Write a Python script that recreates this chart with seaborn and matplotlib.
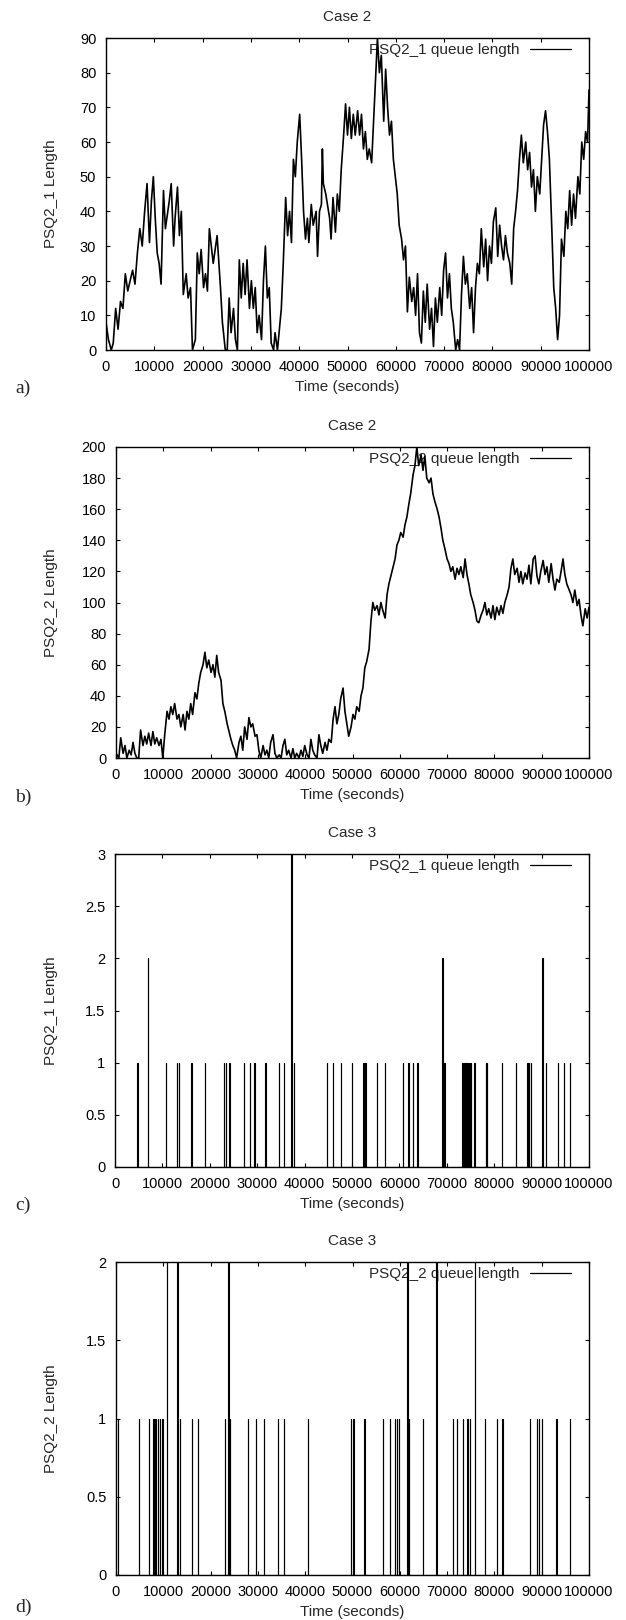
import matplotlib
matplotlib.use("Agg")
import matplotlib.pyplot as plt
import seaborn as sns

# panel a) Case 2, PSQ2_1 queue length (time in thousands of seconds)
a_time = [0, 0.5, 1.1, 1.5, 2.0, 2.5, 3.0, 3.5, 4.0, 4.5, 5.0, 5.5, 6.0, 6.5, 7.0, 7.5, 8.0,
          8.5, 9.0, 9.4, 9.8, 10.2, 10.6, 11.0, 11.4, 11.9, 12.3, 13.1, 13.5, 14.0, 14.3, 14.8,
          15.2, 15.6, 16.0, 16.6, 17.0, 17.5, 17.9, 18.5, 18.9, 19.3, 19.7, 20.2, 20.6, 21.0,
          21.4, 22.2, 23.0, 23.7, 24.1, 24.7, 25.1, 25.5, 25.9, 26.4, 26.8, 27.2, 27.6, 28.0,
          28.4, 28.8, 29.2, 29.7, 30.1, 30.5, 30.9, 31.3, 31.7, 32.2, 32.6, 33.0, 33.4, 33.8,
          34.2, 34.7, 35.0, 35.5, 36.3, 36.7, 37.2, 37.6, 38.0, 38.4, 38.8, 39.2, 39.6, 40.1,
          40.5, 40.9, 41.3, 41.7, 42.0, 42.5, 42.9, 43.5, 43.8, 44.2, 44.6, 44.8, 45.0, 45.5,
          46.3, 46.6, 47.0, 47.5, 47.9, 48.3, 48.7, 49.2, 49.6, 50.0, 50.4, 50.8, 51.2, 51.6,
          52.1, 52.5, 52.9, 53.3, 53.7, 54.1, 54.5, 55.0, 55.4, 55.8, 56.2, 56.6, 57.0, 57.5,
          57.9, 58.3, 58.7, 59.1, 59.5, 59.9, 60.3, 60.7, 61.2, 61.6, 62.0, 62.4, 62.8, 63.3,
          63.7, 64.1, 64.5, 64.9, 65.3, 65.7, 66.1, 66.5, 67.0, 67.4, 67.8, 68.2, 68.6, 69.1,
          69.5, 69.9, 70.3, 70.7, 71.1, 71.5, 71.9, 72.4, 72.8, 73.2, 73.6, 74.0, 74.4, 74.8,
          75.3, 75.7, 76.1, 76.5, 76.9, 77.3, 77.7, 78.2, 78.6, 79.0, 79.4, 79.8, 80.2, 80.7,
          81.1, 81.5, 81.9, 82.3, 82.7, 83.1, 83.6, 84.0, 84.4, 84.8, 85.2, 85.6, 86.0, 86.4,
          86.9, 87.3, 87.7, 88.1, 88.5, 88.9, 89.3, 89.8, 90.2, 90.6, 91.0, 91.4, 91.8, 92.3,
          92.7, 93.1, 93.5, 93.9, 94.3, 94.8, 95.2, 95.6, 96.0, 96.4, 96.8, 97.2, 97.7, 98.1,
          98.5, 98.9, 99.3, 99.7, 100.0]
a_len = [8, 3, 0, 2, 12, 6, 14, 12, 22, 17, 20, 23, 19, 28, 35, 30, 40,
         48, 31, 43, 50, 38, 28, 25, 19, 46, 35, 43, 48, 30, 38, 47,
         33, 40, 16, 22, 15, 18, 0, 3, 28, 22, 29, 18, 22, 17,
         35, 25, 33, 18, 8, 0, 0, 15, 5, 12, 3, 0, 26, 15,
         25, 16, 26, 12, 20, 12, 18, 5, 10, 3, 20, 30, 15, 18,
         2, 0, 5, 0, 12, 25, 44, 33, 40, 31, 55, 50, 60, 68,
         55, 40, 32, 38, 31, 42, 36, 40, 27, 40, 42, 58, 48, 45,
         38, 32, 44, 34, 45, 40, 52, 62, 71, 62, 70, 61, 68, 62,
         69, 62, 68, 58, 63, 55, 58, 54, 66, 78, 90, 80, 85, 66,
         81, 70, 62, 66, 55, 50, 45, 36, 32, 26, 30, 11, 21, 14,
         18, 10, 22, 5, 2, 17, 8, 19, 6, 12, 1, 15, 8, 18,
         10, 23, 28, 15, 22, 12, 8, 0, 3, 0, 16, 27, 19, 22,
         12, 18, 5, 18, 25, 22, 35, 24, 32, 20, 30, 25, 37, 41,
         27, 36, 30, 26, 33, 28, 25, 19, 35, 40, 46, 55, 62, 54,
         60, 52, 57, 47, 52, 40, 50, 45, 55, 65, 69, 63, 55, 35,
         18, 12, 3, 10, 32, 27, 40, 35, 46, 36, 45, 38, 50, 45,
         60, 55, 63, 60, 75]

# panel b) Case 2, PSQ2_2 queue length
b_time = [0, 0.6, 1.0, 1.5, 1.9, 2.3, 2.8, 3.2, 3.6, 4.0, 4.4, 4.8, 5.2, 5.7, 6.1, 6.5, 6.9,
          7.4, 7.8, 8.2, 8.6, 9.1, 9.5, 9.9, 10.3, 10.8, 11.2, 11.6, 12.0, 12.4, 12.9, 13.3,
          13.7, 14.2, 14.6, 15.0, 15.4, 15.8, 16.2, 16.7, 17.1, 17.5, 17.9, 18.4, 18.8, 19.2,
          19.6, 20.1, 20.5, 20.9, 21.3, 21.7, 22.2, 22.6, 23.0, 23.5, 23.9, 24.3, 24.7, 25.1,
          25.5, 26.0, 26.4, 26.8, 27.2, 27.7, 28.1, 28.5, 28.9, 29.4, 29.8, 30.2, 30.6, 31.1,
          31.5, 31.9, 32.3, 32.7, 33.2, 33.6, 34.0, 34.5, 34.9, 35.3, 35.7, 36.1, 36.5, 37.0,
          37.4, 37.8, 38.2, 38.7, 39.1, 39.5, 39.9, 40.4, 40.8, 41.2, 41.6, 42.0, 42.5, 42.9,
          43.3, 43.7, 44.2, 44.6, 45.0, 45.5, 45.9, 46.3, 46.7, 47.1, 47.5, 48.0, 48.4, 48.8,
          49.2, 49.7, 50.1, 50.5, 50.9, 51.4, 51.8, 52.2, 52.6, 53.0, 53.5, 53.9, 54.3, 54.7,
          55.2, 55.6, 56.0, 56.4, 56.9, 57.3, 57.7, 58.1, 58.5, 59.0, 59.4, 59.8, 60.2, 60.7,
          61.1, 61.5, 61.9, 62.3, 62.8, 63.2, 63.6, 64.0, 64.5, 64.9, 65.3, 65.7, 66.2, 66.6,
          67.0, 67.4, 67.9, 68.3, 68.7, 69.1, 69.5, 70.0, 70.4, 70.8, 71.2, 71.7, 72.1, 72.5,
          72.9, 73.4, 73.8, 74.2, 74.6, 75.0, 75.5, 75.9, 76.3, 76.7, 77.2, 77.6, 78.0, 78.4,
          78.8, 79.3, 79.7, 80.1, 80.5, 81.0, 81.4, 81.8, 82.2, 82.7, 83.1, 83.5, 83.9, 84.3,
          84.8, 85.2, 85.6, 86.0, 86.5, 86.9, 87.3, 87.7, 88.2, 88.6, 89.0, 89.4, 89.8, 90.3,
          90.7, 91.1, 91.5, 92.0, 92.4, 92.8, 93.2, 93.7, 94.1, 94.5, 94.9, 95.3, 95.8, 96.2,
          96.6, 97.0, 97.5, 97.9, 98.3, 98.7, 99.2, 99.6, 100.0]
b_len = [3, 0, 13, 3, 8, 0, 5, 2, 10, 3, 0, 0, 18, 8, 14, 9, 16,
         8, 17, 9, 13, 8, 12, 0, 15, 30, 25, 33, 28, 35, 25, 28,
         20, 28, 18, 30, 25, 35, 28, 42, 38, 48, 55, 60, 68, 58,
         63, 55, 60, 52, 66, 55, 50, 35, 30, 22, 17, 12, 8, 5,
         0, 10, 14, 5, 20, 12, 26, 20, 22, 14, 15, 5, 0, 8,
         2, 5, 0, 10, 15, 3, 0, 2, 0, 8, 12, 2, 5, 0,
         6, 0, 3, 0, 5, 1, 8, 2, 0, 12, 5, 2, 0, 15,
         8, 3, 10, 5, 12, 10, 25, 33, 22, 28, 38, 45, 30, 22,
         14, 20, 28, 25, 33, 30, 40, 45, 58, 62, 70, 88, 100, 95,
         98, 92, 100, 95, 90, 105, 112, 117, 122, 128, 137, 140, 145, 142,
         150, 155, 163, 170, 182, 188, 200, 188, 195, 185, 194, 180, 177, 180,
         170, 165, 160, 155, 148, 140, 135, 128, 125, 120, 123, 115, 122, 118,
         123, 116, 128, 118, 112, 105, 100, 95, 88, 87, 92, 95, 100, 92,
         96, 90, 98, 89, 97, 92, 98, 93, 100, 105, 110, 122, 128, 118,
         122, 113, 120, 112, 119, 115, 124, 112, 128, 130, 117, 112, 120, 127,
         118, 123, 113, 125, 115, 108, 115, 113, 120, 128, 118, 112, 108, 105,
         100, 108, 98, 102, 92, 85, 96, 90, 97]

# panel c) Case 3, PSQ2_1 queue length: arrival times (s) and queue height
c_time = [4700, 6900, 10700, 13000, 13500, 16100, 18900, 23000, 23400, 24100, 27200, 28400,
          29400, 31700, 34500, 35600, 37200, 37800, 44700, 46000, 47600, 49900, 52400, 52800,
          55200, 57000, 60800, 61900, 62900, 63800, 69000, 69500, 73300, 73700, 73900, 74100,
          74300, 74500, 74700, 74900, 75100, 75800, 78200, 78500, 81600, 84600, 87000, 87300,
          87700, 90100, 90900, 93400, 94700, 96000]
c_len = [1, 2, 1, 1, 1, 1, 1, 1, 1, 1, 1, 1,
         1, 1, 1, 1, 3, 1, 1, 1, 1, 1, 1, 1,
         1, 1, 1, 1, 1, 1, 2, 1, 1, 1, 1, 1,
         1, 1, 1, 1, 1, 1, 1, 1, 1, 1, 1, 1,
         1, 2, 1, 1, 1, 1]

# panel d) Case 3, PSQ2_2 queue length
d_time = [420, 4800, 6900, 7900, 8300, 8800, 9300, 9800, 10700, 12900, 13500, 16100, 17300,
          23000, 23700, 24000, 27900, 29600, 31200, 34200, 35500, 40600, 49700, 50200, 52500,
          56400, 57900, 59000, 59400, 59800, 61600, 61900, 64900, 67600, 71200, 72100, 73400,
          74300, 74800, 75800, 78000, 80500, 81700, 87500, 89000, 89400, 90000, 93100, 95900]
d_len = [1, 1, 1, 1, 1, 1, 1, 1, 2, 2, 1, 1, 1,
         1, 2, 1, 1, 1, 1, 1, 1, 1, 1, 1, 1,
         1, 1, 1, 1, 1, 2, 1, 1, 2, 1, 1, 1,
         1, 1, 2, 1, 1, 1, 1, 1, 1, 1, 1, 1]

x_ticks = [0, 10000, 20000, 30000, 40000, 50000, 60000, 70000, 80000, 90000, 100000]
x_tick_labels = ['0', '10000', '20000', '30000', '40000', '50000', '60000', '70000',
                 '80000', '90000', '100000']
titles = ['Case 2', 'Case 2', 'Case 3', 'Case 3']
ylabels = ['PSQ2_1 Length', 'PSQ2_2 Length', 'PSQ2_1 Length', 'PSQ2_2 Length']
legend_labels = ['PSQ2_1 queue length', 'PSQ2_2 queue length',
                 'PSQ2_1 queue length', 'PSQ2_2 queue length']
panel_letters = ['a)', 'b)', 'c)', 'd)']
y_ticks = [list(range(0, 91, 10)), list(range(0, 201, 20)),
           [0, 0.5, 1, 1.5, 2, 2.5, 3], [0, 0.5, 1, 1.5, 2]]
y_tick_labels = [[str(v) for v in range(0, 91, 10)], [str(v) for v in range(0, 201, 20)],
                 ['0', '0.5', '1', '1.5', '2', '2.5', '3'], ['0', '0.5', '1', '1.5', '2']]


def spike_series(times, heights):
    # each arrival shows as a narrow pulse back down to an empty queue
    xs, ys = [0], [0]
    for t, h in zip(times, heights):
        w = 160 if h == 2 else 60
        xs += [t, t, t + w, t + w]
        ys += [0, h, h, 0]
    xs.append(100000)
    ys.append(0)
    return xs, ys


sns.set_theme(style='ticks')
plt.rcParams['font.family'] = ['Liberation Sans', 'DejaVu Sans']
plt.rcParams['axes.linewidth'] = 1.0

W, H = 626, 1620
fig = plt.figure(figsize=(W / 100, H / 100), dpi=100)

# axes boxes in pixels: left, right, top, bottom
boxes = [(106, 589, 38, 350), (116, 589, 447, 758), (115, 589, 854, 1167), (116, 589, 1262, 1575)]
letter_y = [388, 797, 1205, 1607]

series = [([t * 1000 for t in a_time], a_len),
          ([t * 1000 for t in b_time], b_len),
          spike_series(c_time, c_len),
          spike_series(d_time, d_len)]

for i, (l, r, t, b) in enumerate(boxes):
    ax = fig.add_axes([l / W, 1 - b / H, (r - l) / W, (b - t) / H])
    xs, ys = series[i]
    sns.lineplot(x=xs, y=ys, ax=ax, color='black', linewidth=1.2 if i < 2 else 0.8,
                 estimator=None, sort=False, label=legend_labels[i], zorder=3)
    ax.set_xlim(0, 100000)
    ax.set_ylim(y_ticks[i][0], y_ticks[i][-1])
    ax.set_xticks(x_ticks)
    ax.set_xticklabels(x_tick_labels)
    ax.set_yticks(y_ticks[i])
    ax.set_yticklabels(y_tick_labels[i])
    ax.tick_params(direction='in', top=True, right=True, length=3, width=0.8,
                   pad=7, labelsize=10.5, colors='black')
    for sp in ax.spines.values():
        sp.set_color('black')
    ax.set_title(titles[i], fontsize=11, pad=12)
    ax.set_xlabel('Time (seconds)', fontsize=11)
    ax.set_ylabel(ylabels[i], fontsize=11)
    ax.xaxis.set_label_coords(0.5, -(30 / (b - t)))
    ax.yaxis.set_label_coords((58 - l) / (r - l), 0.5)
    leg = ax.legend(loc='upper right', bbox_to_anchor=((571 - l) / (r - l), 1 - 5 / (b - t)),
                    markerfirst=False, frameon=False, fontsize=11, handlelength=2.7,
                    handletextpad=0.65, borderpad=0, borderaxespad=0)
    for line in leg.get_lines():
        line.set_linewidth(0.9)
    leg.set_zorder(2)
    fig.text(15 / W, 1 - letter_y[i] / H, panel_letters[i], family='Liberation Serif',
             fontsize=14, va='center', ha='left')

fig.savefig('out.png', dpi=100)
